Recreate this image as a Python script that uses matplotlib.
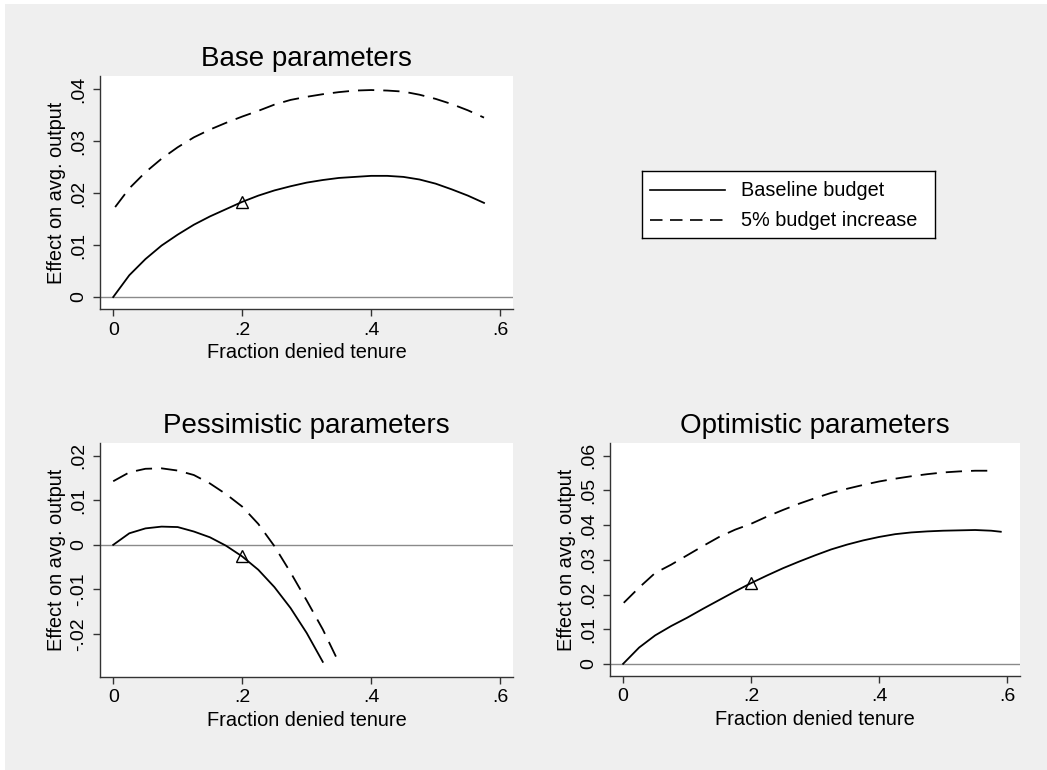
import numpy as np
import matplotlib
matplotlib.use("Agg")
import matplotlib.pyplot as plt
from matplotlib.patches import Rectangle
from matplotlib.ticker import FuncFormatter

plt.rcParams['font.family'] = ['Liberation Sans', 'DejaVu Sans']

# Base parameters
base_x = [0, 0.025, 0.05, 0.075, 0.1, 0.125, 0.15, 0.175, 0.2, 0.225, 0.25, 0.275,
          0.3, 0.325, 0.35, 0.375, 0.4, 0.425, 0.45, 0.475, 0.5, 0.525, 0.55, 0.575]
base_y = [0, 0.0042, 0.0073, 0.0099, 0.0120, 0.0139, 0.0155, 0.0169, 0.0183, 0.0195,
          0.0205, 0.0213, 0.0220, 0.0225, 0.0229, 0.0231, 0.0233, 0.0233, 0.0231,
          0.0226, 0.0218, 0.0207, 0.0195, 0.0181]
base_inc_x = [0.003] + base_x[1:]
base_inc_y = [0.0173, 0.0209, 0.0240, 0.0266, 0.0288, 0.0307, 0.0322, 0.0335, 0.0347,
              0.0358, 0.0370, 0.0379, 0.0385, 0.0390, 0.0394, 0.0397, 0.0398, 0.0397,
              0.0395, 0.0389, 0.0381, 0.0371, 0.0359, 0.0345]

# Pessimistic parameters
pess_x = [0, 0.025, 0.05, 0.075, 0.1, 0.125, 0.15, 0.175, 0.2, 0.225, 0.25, 0.275, 0.3, 0.325]
pess_y = [0, 0.0026, 0.0037, 0.0041, 0.0040, 0.0030, 0.0017, -0.0002, -0.0026, -0.0056,
          -0.0095, -0.0142, -0.0198, -0.0263]
pess_inc_x = pess_x + [0.35]
pess_inc_y = [0.0143, 0.0163, 0.0171, 0.0172, 0.0167, 0.0157, 0.0138, 0.0114, 0.0086,
              0.0047, -0.0003, -0.0062, -0.0125, -0.0190, -0.0265]

# Optimistic parameters
opt_x = base_x + [0.59]
opt_y = [0, 0.0047, 0.0082, 0.0109, 0.0133, 0.0159, 0.0184, 0.0209, 0.0233, 0.0255,
         0.0276, 0.0295, 0.0313, 0.0330, 0.0344, 0.0356, 0.0366, 0.0374, 0.0379, 0.0382,
         0.0384, 0.0385, 0.0386, 0.0384, 0.0381]
opt_inc_x = [0.001] + base_x[1:]
opt_inc_y = [0.0176, 0.0220, 0.0262, 0.0286, 0.0313, 0.0340, 0.0366, 0.0387, 0.0404,
             0.0425, 0.0444, 0.0462, 0.0478, 0.0493, 0.0505, 0.0516, 0.0526, 0.0534,
             0.0541, 0.0547, 0.0552, 0.0555, 0.0557, 0.0557]

# current policy point (triangle)
mark_x = 0.2
mark_y = {'base': 0.0183, 'pess': -0.0026, 'opt': 0.0233}

bg = '#efefef'
fig = plt.figure(figsize=(10.47, 7.7), dpi=100, facecolor=bg)
# thin white strips at top and left edge
fig.patches.append(Rectangle((0, 1 - 4 / 770), 1, 4 / 770, transform=fig.transFigure,
                             facecolor='white', edgecolor='none', zorder=-10))
fig.patches.append(Rectangle((0, 0), 5 / 1047, 1, transform=fig.transFigure,
                             facecolor='white', edgecolor='none', zorder=-10))


def fmt(v, pos):
    if abs(v) < 1e-9:
        return '0'
    s = ('%.2f' % v).rstrip('0')
    return s.replace('0.', '.')


def panel(rect, title, xs, ys, xi, yi, my, ylim, yticks):
    ax = fig.add_axes(rect)
    ax.plot(xs, ys, color='black', lw=1.3)
    ax.plot(xi, yi, color='black', lw=1.3, dashes=(9, 5))
    ax.plot([mark_x], [my], marker='^', ms=9, mfc='none', mec='black', mew=1.0)
    ax.axhline(0, color='#8a8a8a', lw=1.0, zorder=0)
    ax.set_xlim(-0.0205, 0.620)
    ax.set_ylim(*ylim)
    ax.set_xticks([0, 0.2, 0.4, 0.6])
    ax.set_yticks(yticks)
    ax.xaxis.set_major_formatter(FuncFormatter(fmt))
    ax.yaxis.set_major_formatter(FuncFormatter(fmt))
    for lab in ax.get_yticklabels():
        lab.set_rotation(90)
        lab.set_va('center')
    ax.tick_params(direction='out', length=5, width=1, color='#333333',
                   labelsize=14, pad=4)
    ax.spines['top'].set_visible(False)
    ax.spines['right'].set_visible(False)
    for s in ('left', 'bottom'):
        ax.spines[s].set_color('#333333')
        ax.spines[s].set_linewidth(1.0)
    ax.set_xlabel('Fraction denied tenure', fontsize=14.4, labelpad=3)
    ax.set_ylabel('Effect on avg. output', fontsize=14.4, labelpad=3)
    ax.set_title(title, fontsize=20, pad=7)
    return ax


panel([0.0955, 0.5987, 0.3945, 0.3026], 'Base parameters', base_x, base_y,
      base_inc_x, base_inc_y, mark_y['base'], (-0.0023, 0.0425),
      [0, 0.01, 0.02, 0.03, 0.04])
panel([0.0955, 0.1208, 0.3945, 0.3039], 'Pessimistic parameters', pess_x, pess_y,
      pess_inc_x, pess_inc_y, mark_y['pess'], (-0.0297, 0.0229),
      [-0.02, -0.01, 0, 0.01, 0.02])
panel([0.5826, 0.1221, 0.3916, 0.3026], 'Optimistic parameters', opt_x, opt_y,
      opt_inc_x, opt_inc_y, mark_y['opt'], (-0.0035, 0.0637),
      [0, 0.01, 0.02, 0.03, 0.04, 0.05, 0.06])

# legend box in the empty top-right slot
lax = fig.add_axes([642 / 1047, 1 - 238 / 770, 293 / 1047, 67 / 770])
lax.set_xlim(0, 293)
lax.set_ylim(67, 0)
lax.set_xticks([])
lax.set_yticks([])
for s in lax.spines.values():
    s.set_linewidth(1.0)
    s.set_color('black')
lax.plot([8, 83], [19, 19], color='black', lw=1.2)
lax.plot([8, 83], [49, 49], color='black', lw=1.2, dashes=(7.5, 4.5))
lax.text(99, 19, 'Baseline budget', fontsize=14.3, va='center')
lax.text(99, 49, '5% budget increase', fontsize=14.3, va='center')

fig.savefig('out.png', dpi=100, facecolor=fig.get_facecolor())
